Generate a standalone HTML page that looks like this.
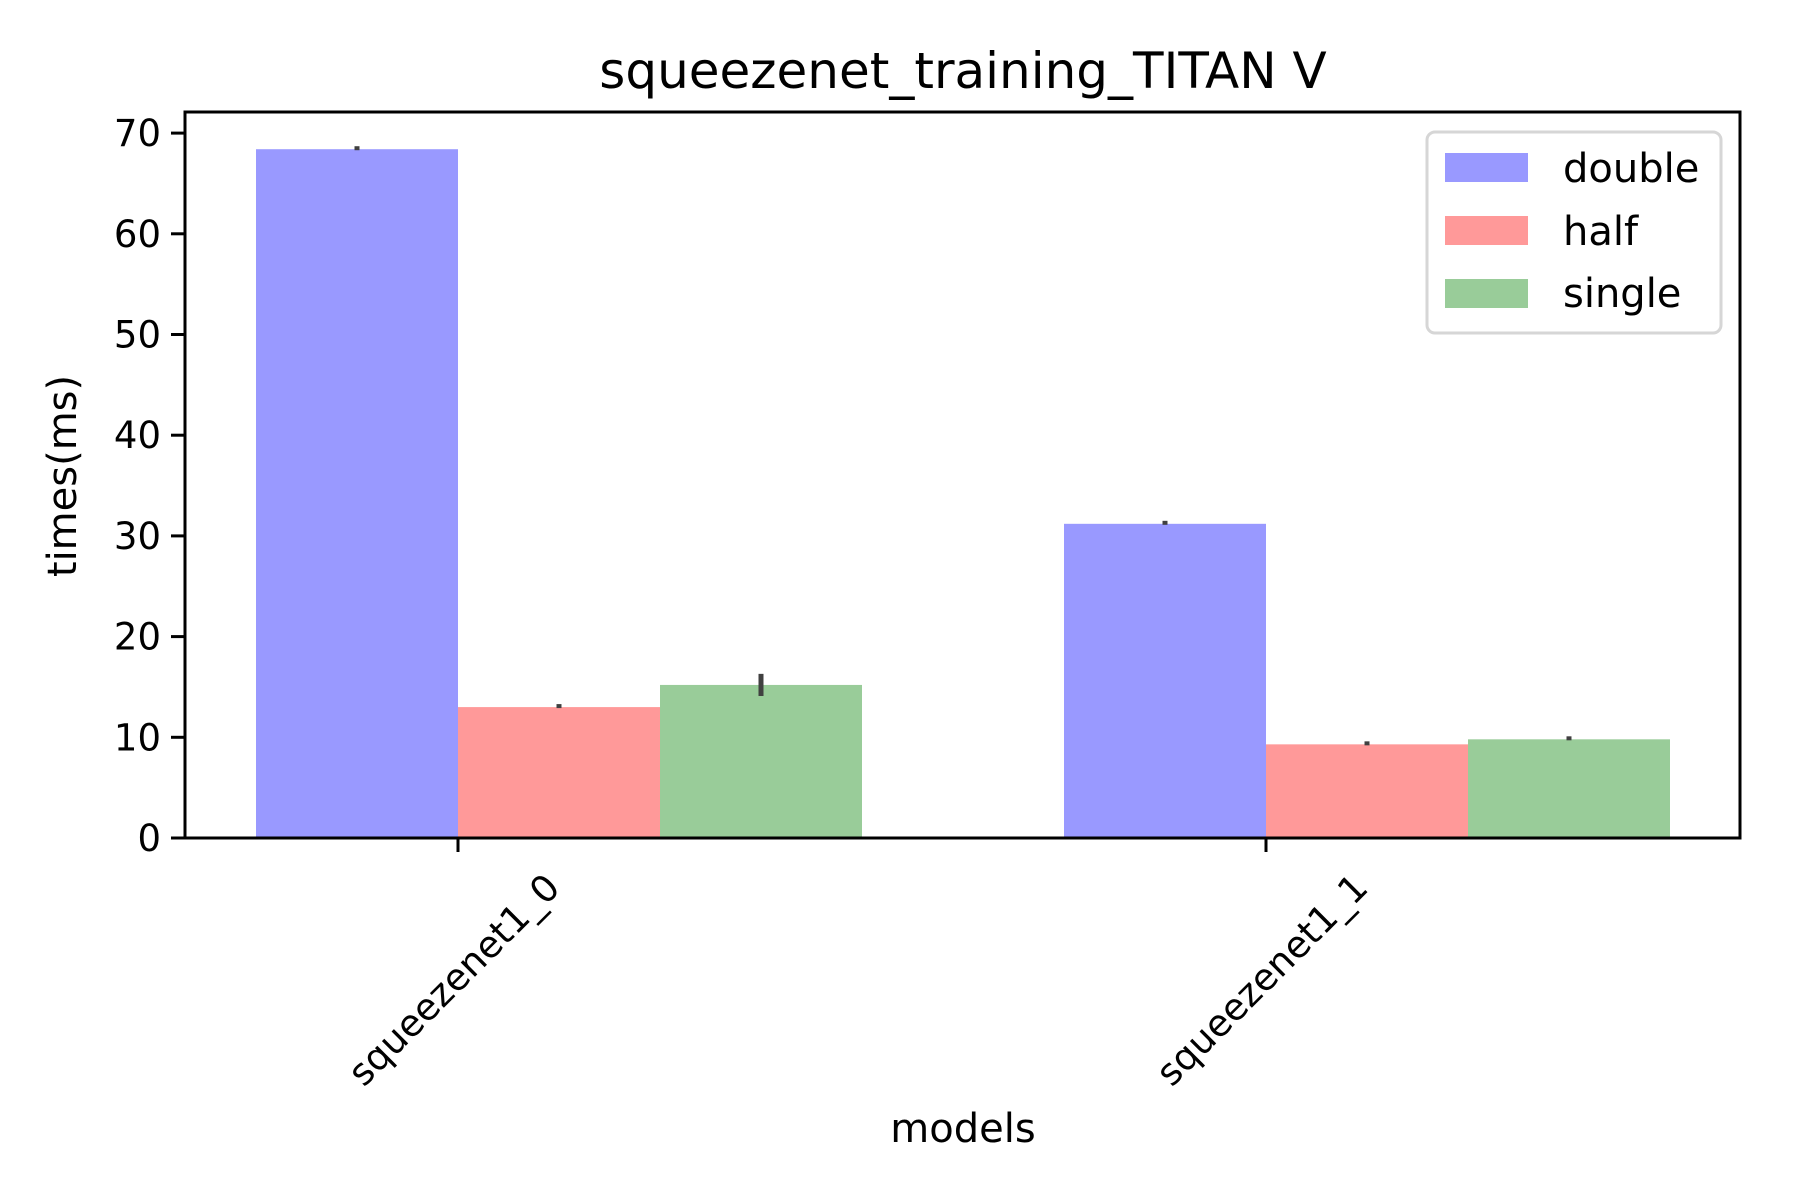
<!DOCTYPE html>
<html><head><meta charset="utf-8"><style>
html,body{margin:0;padding:0;background:#fff;}
svg{display:block;font-family:"DejaVu Sans","Liberation Sans",sans-serif;}
</style></head><body>
<svg id="chart" width="1800" height="1200" viewBox="0 0 1800 1200">
<rect x="0" y="0" width="1800" height="1200" fill="#fff"/>
<text x="963" y="88" font-size="50" text-anchor="middle">squeezenet_training_TITAN V</text>
<g id="plot"></g>
<text transform="translate(76,476) rotate(-90)" font-size="40" text-anchor="middle">times(ms)</text>
<text x="963" y="1142" font-size="40" text-anchor="middle">models</text>
<g id="legend">
<rect x="1427" y="132" width="294" height="201" rx="8" fill="#fff" stroke="#d6d6d6" stroke-width="3"/>
<rect x="1445" y="153" width="83" height="29" fill="#9999ff"/>
<text x="1563" y="182" font-size="40">double</text>
<rect x="1445" y="216" width="83" height="29" fill="#ff9999"/>
<text x="1563" y="245" font-size="40">half</text>
<rect x="1445" y="279" width="83" height="29" fill="#99cc99"/>
<text x="1563" y="307" font-size="40">single</text>
</g>
</svg>
<script>
const categories = ["squeezenet1_0", "squeezenet1_1"];
const seriesNames = ["double", "half", "single"];
const doubleVals = [68.4, 31.2];
const halfVals = [13.0, 9.3];
const singleVals = [15.2, 9.8];
const doubleErr = [0.1, 0.05];
const halfErr = [0.05, 0.2];
const singleErr = [1.1, 0.05];
const yTicks = [0, 10, 20, 30, 40, 50, 60, 70];

const NS = "http://www.w3.org/2000/svg";
const L = 185, R = 1740, T = 112, B = 838;
const x0 = 458, groupStep = 808, barW = 202;
function yScale(v){ return B - v * 10.07; }
function xCat(i){ return x0 + i * groupStep; }
const plot = document.getElementById('plot');
function mk(tag, attrs){ const e = document.createElementNS(NS, tag); for (const k in attrs) e.setAttribute(k, attrs[k]); plot.appendChild(e); return e; }

const series = [doubleVals, halfVals, singleVals];
const errs = [doubleErr, halfErr, singleErr];
const colors = ["#9999ff", "#ff9999", "#99cc99"];
series.forEach((vals, s) => {
  vals.forEach((v, i) => {
    const xl = xCat(i) + (s - 1) * barW;
    const r = mk('rect', {x: xl, y: yScale(v), width: barW, height: yScale(0) - yScale(v), fill: colors[s]});
    
    
  });
});
series.forEach((vals, s) => {
  vals.forEach((v, i) => {
    const cx = xCat(i) + (s - 1) * barW + barW / 2;
    const e = errs[s][i];
    const ln = mk('line', {x1: cx, x2: cx, y1: yScale(v + e), y2: yScale(v - e), stroke: "#404040", "stroke-width": 5});
    if (e < 0.3) { ln.setAttribute('y1', yScale(v) - 3); ln.setAttribute('y2', yScale(v) + 1); }
    
    
  });
});
const frame = mk('rect', {x: L, y: T, width: R - L, height: B - T, fill: "none", stroke: "#000", "stroke-width": 3});


yTicks.forEach(t => {
  const y = yScale(t);
  const tk = mk('line', {x1: L - 14, x2: L, y1: y, y2: y, stroke: "#000", "stroke-width": 3});
  
  
  const lb = mk('text', {x: L - 24, y: y + 13, "font-size": 37, "text-anchor": "end"});
  lb.textContent = t;
  
  
});
categories.forEach((c, i) => {
  const x = xCat(i);
  const tk = mk('line', {x1: x, x2: x, y1: B, y2: B + 14, stroke: "#000", "stroke-width": 3});
  
  
  const lb = mk('text', {x: 0, y: 0, "font-size": 37, "text-anchor": "middle", "dominant-baseline": "central", transform: 'translate(' + (x - 4) + ',980) rotate(-45)'});
  lb.textContent = c;
  
  
});
</script>
</body></html>
